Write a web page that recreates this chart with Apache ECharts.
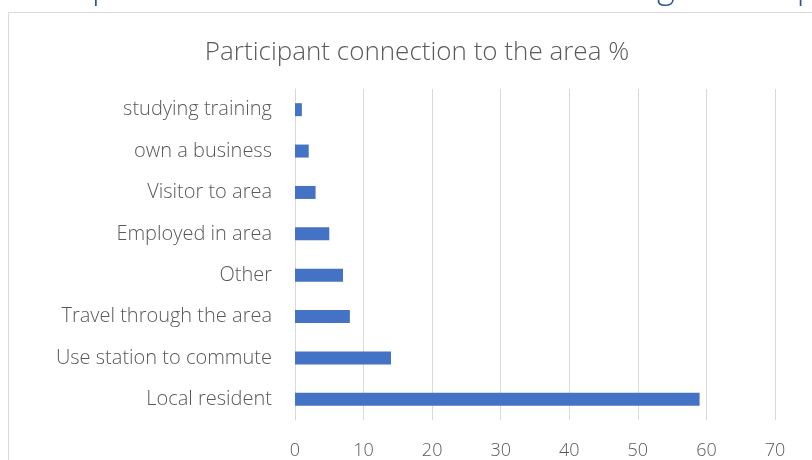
<!DOCTYPE html>
<html>
<head>
<meta charset="utf-8">
<script src="https://cdn.jsdelivr.net/npm/echarts@6/dist/echarts.min.js"></script>
<style>
  html, body { margin: 0; padding: 0; background: #fff; }
  #main { width: 812px; height: 460px; }
</style>
</head>
<body>
<div id="main"></div>
<script>
  // categories bottom -> top
  var categories = ['Local resident', 'Use station to commute', 'Travel through the area', 'Other',
    'Employed in area', 'Visitor to area', 'own a business', 'studying training'];
  var percents = [59, 14, 8, 7, 5, 3, 2, 1];

  var font = '"Open Sans", Lato, sans-serif';
  var chart = echarts.init(document.getElementById('main'));

  chart.setOption({
    animation: false,
    title: {
      text: 'Participant connection to the area %',
      left: 412,
      textAlign: 'center',
      top: 35,
      textStyle: { color: '#595959', fontSize: 26, fontWeight: 300, fontFamily: font }
    },
    graphic: [
      {
        type: 'rect',
        shape: { x: 8.5, y: 12.5, width: 900, height: 600 },
        style: { fill: 'none', stroke: '#d9d9d9', lineWidth: 1 },
        silent: true
      },
      {
        type: 'text',
        left: -2,
        top: -29,
        style: {
          text: 'Participant connection to the South Geelong station p',
          fill: '#2f5496',
          font: '300 34px ' + font
        },
        silent: true
      }
    ],
    grid: { left: 295, right: 37, top: 89, bottom: 40 },
    xAxis: {
      type: 'value',
      min: 0,
      max: 70,
      interval: 10,
      axisLine: { show: false },
      axisTick: { show: false },
      axisLabel: { color: '#595959', fontSize: 18, fontWeight: 300, fontFamily: font, margin: 22 },
      splitLine: { lineStyle: { color: '#d9d9d9', width: 1 } }
    },
    yAxis: {
      type: 'category',
      data: categories,
      axisLine: { lineStyle: { color: '#d9d9d9' } },
      axisTick: { show: false },
      axisLabel: { color: '#595959', fontSize: 20, fontWeight: 300, fontFamily: font, margin: 23, padding: [4, 0, 0, 0] }
    },
    series: [{
      type: 'bar',
      data: percents,
      barWidth: 13,
      itemStyle: { color: '#4472c4' }
    }]
  });
</script>
</body>
</html>
